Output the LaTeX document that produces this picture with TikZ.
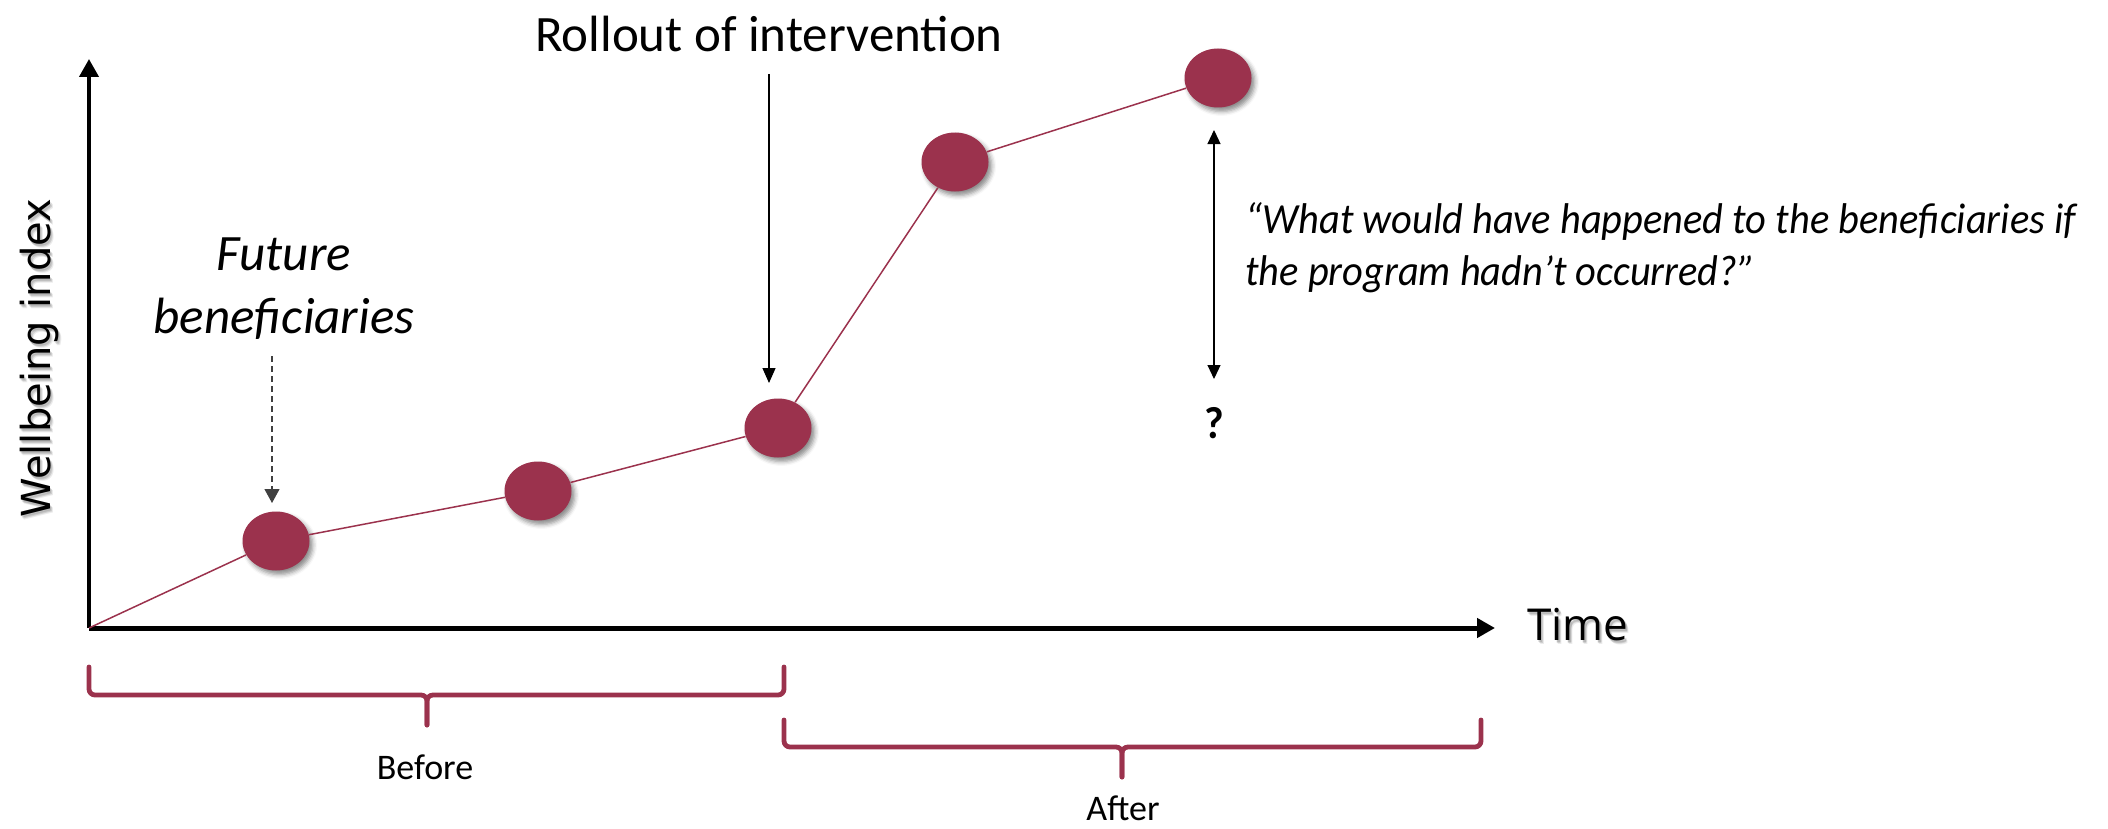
\documentclass[tikz,border=0pt]{standalone}
\usepackage{fontspec}
\setmainfont{Carlito}
\newfontfamily\axisfont{DejaVu Sans}
\newfontfamily\timefont{Open Sans}
\newfontfamily\narrowfont[FakeStretch=0.94]{Carlito}
\usetikzlibrary{arrows.meta,shapes.geometric,shadows.blur}
\definecolor{maroon}{RGB}{155,50,77}
\definecolor{shadowgray}{RGB}{90,90,90}

\tikzset{
  dot/.style={ellipse, fill=maroon, draw=none, minimum width=33.5pt, minimum height=29.5pt, inner sep=0pt,
    blur shadow={shadow xshift=1.6pt, shadow yshift=-2pt, shadow blur radius=2.2pt, shadow opacity=45}},
  trend/.style={draw=maroon, line width=0.75pt},
  axis/.style={draw=black, -{Triangle[length=9pt,width=9.5pt]}},
  pointer/.style={draw=black, line width=0.6pt, -{Triangle[length=7.5pt,width=6.5pt]}},
  dashpointer/.style={draw=black!75, line width=0.6pt, dash pattern=on 3pt off 2pt,
    -{Triangle[length=7pt,width=7.5pt]}},
  gap/.style={draw=black, line width=0.6pt, {Triangle[length=7pt,width=6.5pt]}-{Triangle[length=7pt,width=6.5pt]}},
  period/.style={draw=maroon, line width=2.4pt, rounded corners=3pt, line cap=round},
  title/.style={font=\fontsize{25.5}{31.5}\selectfont, inner sep=0pt},
  quote/.style={font=\narrowfont\fontsize{21.5}{26}\selectfont\itshape, inner sep=0pt, anchor=base west},
  span/.style={font=\fontsize{18}{22}\selectfont, inner sep=0pt, anchor=base},
}

\begin{document}
\begin{tikzpicture}[x=0.5pt,y=-0.5pt]
\useasboundingbox (0,0) rectangle (2108,829);

% axes
\coordinate (O) at (89,628);
\coordinate (ytop) at (89,59);
\coordinate (xend) at (1495,628);
\draw[axis, line width=2pt] (O) -- (ytop);
\draw[axis, line width=2.5pt] (O) -- (xend);

% axis labels with soft shadow
\foreach \dx/\dy/\op in {3/4/0.12, 2/3/0.2, 1.5/2/0.2}{
  \node[font=\axisfont\fontsize{20}{24}\selectfont, text=shadowgray, opacity=\op,
        rotate=90, anchor=base, inner sep=0pt] at (50+\dx,358+\dy) {Wellbeing index};
  \node[font=\timefont\fontsize{22}{26}\selectfont, text=shadowgray, opacity=\op,
        anchor=base, inner sep=0pt] at (1578+\dx,640+\dy) {Time};
}
\node[font=\axisfont\fontsize{20}{24}\selectfont, rotate=90, anchor=base, inner sep=0pt]
  (ylabel) at (50,358) {Wellbeing index};
\node[font=\timefont\fontsize{22}{26}\selectfont, anchor=base, inner sep=0pt]
  (xlabel) at (1578,640) {Time};

% measured outcomes of the beneficiaries
\node[dot] (c1) at (276,541) {};
\node[dot] (c2) at (538,491) {};
\node[dot] (c3) at (778,428) {};
\node[dot] (c4) at (955,162) {};
\node[dot] (c5) at (1218,78) {};
\draw[trend] (O) -- (c1);
\draw[trend] (c1) -- (c2);
\draw[trend] (c2) -- (c3);
\draw[trend] (c3) -- (c4);
\draw[trend] (c4) -- (c5);

% rollout marker
\node[title, anchor=base] (roll) at (769,52) {Rollout of intervention};
\coordinate (rolltop) at (769,74);
\coordinate (rolltip) at (769,383);
\draw[pointer] (rolltop) -- (rolltip);

% future beneficiaries
\node[title, font=\fontsize{25.5}{31.5}\selectfont\itshape, anchor=base] (fut1) at (284,270) {Future};
\node[title, font=\fontsize{25.5}{31.5}\selectfont\itshape, anchor=base] (fut2) at (284,333) {beneficiaries};
\coordinate (futtop) at (272,356);
\coordinate (futtip) at (272,503);
\draw[dashpointer] (futtop) -- (futtip);

% counterfactual gap
\coordinate (gaptop) at (1214,130);
\coordinate (gapbot) at (1214,379);
\draw[gap] (gaptop) -- (gapbot);
\node[font=\narrowfont\fontsize{22.5}{26}\selectfont\bfseries, inner sep=0pt, anchor=base] (qmark) at (1214,438) {?};
\node[quote] (q1) at (1245,233) {“What would have happened to the beneficiaries if};
\node[quote] (q2) at (1245,285) {the program hadn’t occurred?”};

% before / after periods
\draw[period] (89,667) -- (89,695) -- (427,695) -- (427,725);
\draw[period] (784,667) -- (784,695) -- (427,695) -- (427,725);
\node[span] (before) at (425,779) {Before};
\draw[period] (784,720) -- (784,747) -- (1122,747) -- (1122,777);
\draw[period] (1481,720) -- (1481,747) -- (1122,747) -- (1122,777);
\node[span] (after) at (1123,820) {After};
\end{tikzpicture}
\end{document}
